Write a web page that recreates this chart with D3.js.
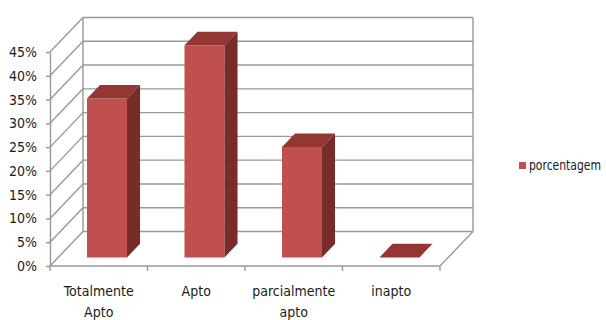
<!DOCTYPE html>
<html>
<head>
<meta charset="utf-8">
<script src="https://cdn.jsdelivr.net/npm/d3@7"></script>
<style>
  html, body { margin: 0; padding: 0; background: #fff; }
  svg text { font-family: "Liberation Sans Narrow", "Arial Narrow", "DejaVu Sans Condensed", sans-serif; font-stretch: condensed; fill: #1a1a1a; }
</style>
</head>
<body>
<svg id="chart" width="606" height="320"></svg>
<script>
// Avaliação por categoria (valores em %)
const categories = ["Totalmente Apto", "Apto", "parcialmente apto", "inapto"];
const porcentagem = [33.4, 44.6, 23.2, 0];
const yTicks = [0, 5, 10, 15, 20, 25, 30, 35, 40, 45];
const seriesName = "porcentagem";

const svg = d3.select("#chart");
const fontFamily = '"Liberation Sans Narrow", "Arial Narrow", "DejaVu Sans Condensed", sans-serif';
const fontSize = 14;

// Front plane scales
const x = d3.scaleBand().domain(categories).range([50, 440]).paddingInner(0).paddingOuter(0);
const y = d3.scaleLinear().domain([0, 45]).range([266, 52]);

// Oblique depth vector (front -> back of the plot box)
const DX = 33, DY = -34.5;
const proj = (px, v, f) => [px + f * DX, y(v) + f * DY];

const gridColor = "#989898";
const grid = svg.append("g").attr("fill", "none").attr("stroke", gridColor).attr("stroke-width", 1.4);

// Back wall horizontal gridlines
grid.selectAll("line.back").data(yTicks).join("line")
  .attr("x1", d => proj(50, d, 1)[0]).attr("y1", d => proj(50, d, 1)[1])
  .attr("x2", d => proj(440, d, 1)[0]).attr("y2", d => proj(440, d, 1)[1]);

// Side wall diagonals
grid.selectAll("line.side").data(yTicks).join("line")
  .attr("x1", d => proj(50, d, 0)[0]).attr("y1", d => proj(50, d, 0)[1])
  .attr("x2", d => proj(50, d, 1)[0]).attr("y2", d => proj(50, d, 1)[1]);

// Back wall vertical edges
[50, 440].forEach(px => {
  grid.append("line")
    .attr("x1", proj(px, 0, 1)[0]).attr("y1", proj(px, 0, 1)[1])
    .attr("x2", proj(px, 45, 1)[0]).attr("y2", proj(px, 45, 1)[1]);
});

// Floor: front edge and right edge
grid.append("line")
  .attr("x1", 50).attr("y1", y(0)).attr("x2", 440).attr("y2", y(0));
grid.append("line")
  .attr("x1", proj(440, 0, 0)[0]).attr("y1", proj(440, 0, 0)[1])
  .attr("x2", proj(440, 0, 1)[0]).attr("y2", proj(440, 0, 1)[1]);

// Category tick marks on the floor front edge
const boundaries = categories.map(c => x(c)).concat([x.range()[1]]);
grid.selectAll("line.xtick").data(boundaries).join("line")
  .attr("x1", d => d).attr("x2", d => d)
  .attr("y1", y(0)).attr("y2", y(0) + 5);

// Value axis
const yAxis = d3.axisLeft(y)
  .tickValues(yTicks)
  .tickFormat(d => d + "%")
  .tickSize(4)
  .tickSizeOuter(0)
  .tickPadding(9);
const gy = svg.append("g").attr("transform", "translate(50,0)").call(yAxis);
gy.select(".domain").attr("stroke", gridColor).attr("stroke-width", 1.4);
gy.selectAll(".tick line").attr("stroke", gridColor).attr("stroke-width", 1.4);
gy.selectAll(".tick text")
  .attr("font-size", fontSize)
  .style("font-family", fontFamily)
  .attr("fill", "#1a1a1a");

// 3D bars
const F0 = 0.25, F1 = 0.645;   // depth slice occupied by the bars
const barW = 40;
const colFront = "#C0504D", colSide = "#772C2A", colTop = "#943634";
const pts = a => a.map(p => p.join(",")).join(" ");

const bars = svg.append("g");
categories.forEach((c, i) => {
  const v = porcentagem[i];
  const x0 = x(c) + (x.bandwidth() - barW) / 2;
  const x1 = x0 + barW;
  const g = bars.append("g");
  // front face
  g.append("polygon").attr("fill", colFront)
    .attr("points", pts([proj(x0, 0, F0), proj(x1, 0, F0), proj(x1, v, F0), proj(x0, v, F0)]));
  // side face
  g.append("polygon").attr("fill", colSide)
    .attr("points", pts([proj(x1, 0, F0), proj(x1, 0, F1), proj(x1, v, F1), proj(x1, v, F0)]));
  // top face
  g.append("polygon").attr("fill", colTop)
    .attr("points", pts([proj(x0, v, F0), proj(x1, v, F0), proj(x1, v, F1), proj(x0, v, F1)]));
});

// Category labels (wrapped)
const labels = svg.append("g").attr("text-anchor", "middle").attr("font-size", fontSize);
categories.forEach(c => {
  const cx = x(c) + x.bandwidth() / 2;
  const t = labels.append("text").attr("x", cx).attr("y", 296);
  c.split(" ").forEach((w, k) => {
    t.append("tspan").attr("x", cx).attr("dy", k === 0 ? 0 : 21).text(w);
  });
});

// Legend
const legend = svg.append("g").attr("transform", "translate(519,162)");
legend.append("rect").attr("width", 7).attr("height", 7).attr("fill", colFront);
legend.append("text").attr("x", 10).attr("y", 7.5).attr("font-size", fontSize)
  .attr("textLength", 72).attr("lengthAdjust", "spacingAndGlyphs")
  .text(seriesName);
</script>
</body>
</html>
